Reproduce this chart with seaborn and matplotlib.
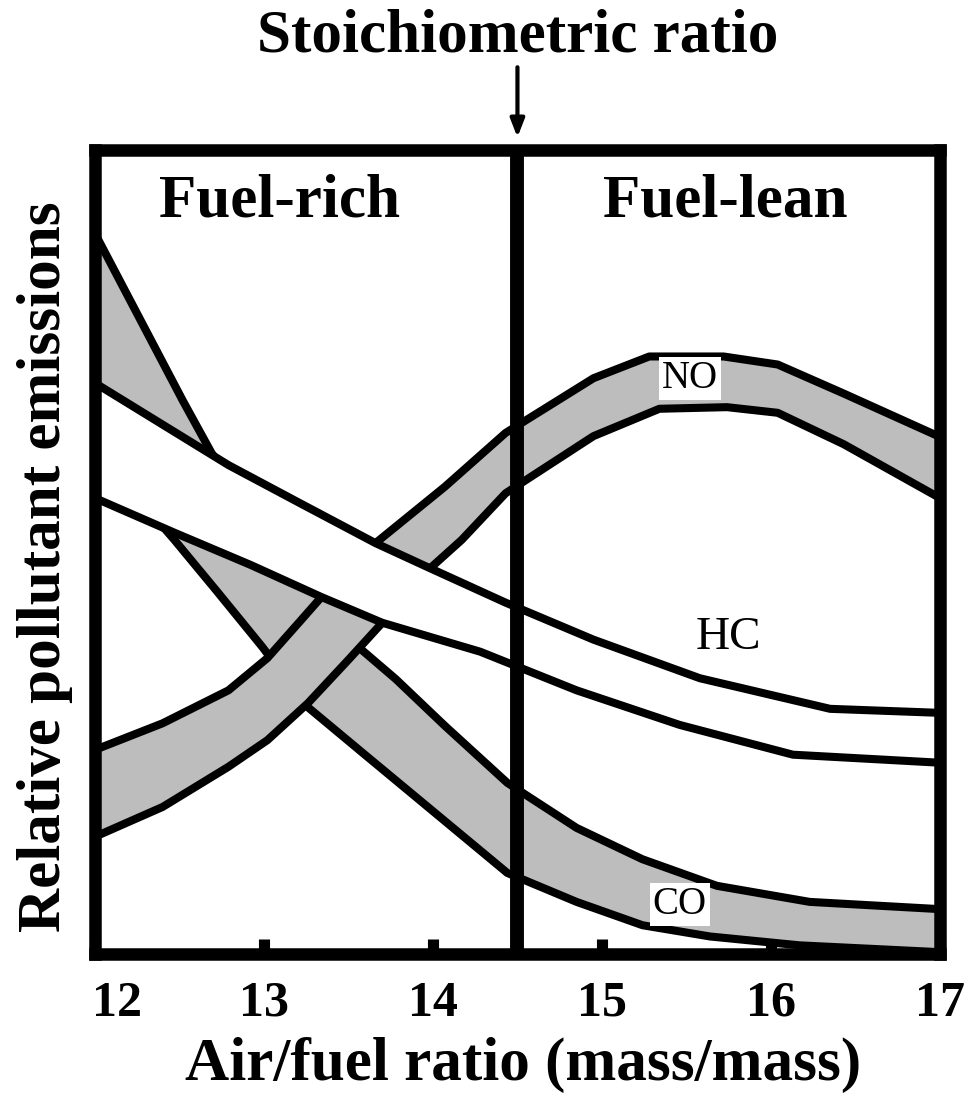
import matplotlib
matplotlib.use("Agg")
import matplotlib.pyplot as plt
import matplotlib.transforms as mtransforms
import seaborn as sns
import pandas as pd

# Curves (x = air/fuel ratio, y = relative emissions on a 0-100 scale)
co_upper_x = [12.0, 12.31, 12.52, 12.69, 12.98, 13.21, 13.42, 13.58, 13.78, 14.07, 14.44,
              14.85, 15.24, 15.68, 16.23, 17.0]
co_upper_y = [89.6, 77.2, 68.8, 62.3, 54.0, 47.8, 42.2, 37.8, 34.2, 28.4, 21.3,
              15.7, 11.8, 8.5, 6.5, 5.6]
co_lower_x = [12.0, 12.47, 12.73, 12.99, 13.26, 13.58, 13.97, 14.44, 14.85, 15.24, 15.64, 16.17, 17.0]
co_lower_y = [62.9, 51.5, 44.9, 38.2, 30.7, 25.1, 18.3, 10.1, 6.5, 3.6, 2.2, 1.1, 0.25]

no_upper_x = [12.0, 12.40, 12.79, 13.02, 13.21, 13.34, 13.66, 14.07, 14.43, 14.95, 15.28,
              15.72, 16.04, 16.43, 17.0]
no_upper_y = [25.4, 28.7, 32.8, 36.8, 41.3, 44.4, 51.1, 58.1, 64.8, 71.6, 74.3,
              74.3, 73.3, 69.7, 64.3]
no_lower_x = [12.0, 12.40, 12.79, 13.02, 13.26, 13.50, 13.70, 13.99, 14.17, 14.43, 14.95,
              15.34, 15.74, 16.04, 16.43, 17.0]
no_lower_y = [14.6, 18.3, 23.3, 26.6, 31.2, 36.6, 41.2, 48.1, 51.5, 57.3, 64.4,
              67.8, 68.0, 67.3, 63.4, 56.7]

hc_upper_x = [12.0, 12.79, 13.21, 13.66, 13.97, 14.43, 14.95, 15.58, 16.35, 17.0]
hc_upper_y = [71.0, 60.8, 56.1, 51.1, 48.1, 43.7, 39.1, 34.3, 30.5, 30.0]
hc_lower_x = [12.0, 12.47, 12.92, 13.34, 13.70, 14.28, 14.85, 15.46, 16.13, 17.0]
hc_lower_y = [56.7, 52.4, 48.4, 44.4, 41.2, 37.6, 32.8, 28.5, 24.8, 23.8]

x_ticks = [12, 13, 14, 15, 16, 17]
stoich = 14.5

GRAY = "#bdbdbd"
LW = 5.8

sns.set_theme(style="white")
plt.rcParams["font.family"] = ["Liberation Serif", "DejaVu Serif"]
plt.rcParams["text.color"] = "black"
plt.rcParams["xtick.labelcolor"] = "black"

fig = plt.figure(figsize=(9.69, 10.93), dpi=100)
ax = fig.add_axes([0.098, 0.127, 0.872, 0.736])


def band(ux, uy, lx, ly, fill, z):
    poly_x = list(ux) + list(reversed(lx))
    poly_y = list(uy) + list(reversed(ly))
    ax.fill(poly_x, poly_y, color=fill, lw=0, zorder=z)
    for xs, ys in ((ux, uy), (lx, ly)):
        df = pd.DataFrame({"x": xs, "y": ys})
        sns.lineplot(data=df, x="x", y="y", ax=ax, color="black", lw=LW,
                     sort=False, estimator=None, zorder=z + 0.1)


band(co_upper_x, co_upper_y, co_lower_x, co_lower_y, GRAY, 1.0)
band(no_upper_x, no_upper_y, no_lower_x, no_lower_y, GRAY, 1.2)
band(hc_upper_x, hc_upper_y, hc_lower_x, hc_lower_y, "white", 1.4)

ax.axvline(stoich, color="black", lw=10, zorder=4)

ax.set_xlim(12, 17)
ax.set_ylim(0, 100)
ax.set_xticks(x_ticks)
ax.set_xticklabels([str(t) for t in x_ticks], fontsize=36, fontweight="bold")
ax.set_yticks([])
ax.tick_params(axis="x", direction="in", length=11, width=8, color="black", pad=19,
               bottom=True)
# the first label sits a little right of the axis corner in the original
first = ax.get_xticklabels()[0]
first.set_transform(first.get_transform() +
                    mtransforms.ScaledTranslation(16 / 72, 0, fig.dpi_scale_trans))
ax.set_xlabel("")
ax.set_ylabel("")
for sp in ax.spines.values():
    sp.set_visible(True)
    sp.set_color("black")
    sp.set_linewidth(9)
    sp.set_zorder(5)

# labels on the plot
ax.text(13.09, 91.7, "Fuel-rich", fontsize=44, fontweight="bold", ha="center", va="baseline")
ax.text(15.73, 91.7, "Fuel-lean", fontsize=44, fontweight="bold", ha="center", va="baseline")
box = dict(boxstyle="square,pad=0.08", fc="white", ec="none")
ax.text(15.52, 71.6, "NO", fontsize=28, ha="center", va="center", bbox=box, zorder=6)
ax.text(15.46, 6.2, "CO", fontsize=28, ha="center", va="center", bbox=box, zorder=6)
ax.text(15.75, 39.3, "HC", fontsize=34, ha="center", va="center", zorder=6)

# stoichiometric arrow and heading
ax.annotate("", xy=(stoich, 1.012), xycoords=("data", "axes fraction"),
            xytext=(stoich, 1.106), textcoords=("data", "axes fraction"),
            arrowprops=dict(arrowstyle="-|>,head_length=0.9,head_width=0.35", color="black", lw=3),
            annotation_clip=False)
ax.text(stoich, 1.122, "Stoichiometric ratio", transform=ax.get_xaxis_transform(),
        fontsize=44, fontweight="bold", ha="center", va="baseline")

fig.text(523 / 969, 0.0119, "Air/fuel ratio (mass/mass)", fontsize=44, fontweight="bold",
         ha="center", va="baseline")
fig.text(45 / 969, 1 - 567 / 1093, "Relative pollutant emissions", fontsize=44,
         fontweight="bold", rotation=90, ha="center", va="center")

fig.savefig("out.png", dpi=100)
